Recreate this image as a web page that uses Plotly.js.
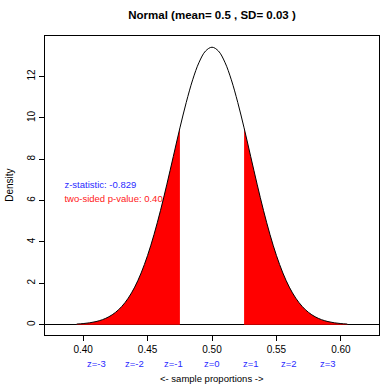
<!DOCTYPE html>
<html><head><meta charset="utf-8">
<script src="https://cdn.plot.ly/plotly-3.0.1.min.js"></script>
<style>html,body{margin:0;padding:0;background:#fff}#c{width:384px;height:385px}</style>
</head><body><div id="c"></div>
<script>
// Values: normal curve, mean 0.5, SD ~0.03
var xs = [0.395,0.400,0.405,0.410,0.415,0.420,0.425,0.430,0.435,0.440,0.445,0.450,0.455,0.460,0.465,0.470,0.4751,0.480,0.485,0.490,0.495,0.500,0.505,0.510,0.515,0.520,0.5249,0.530,0.535,0.540,0.545,0.550,0.555,0.560,0.565,0.570,0.575,0.580,0.585,0.590,0.595,0.600,0.605];
var dens = [0.029,0.052,0.089,0.149,0.242,0.383,0.589,0.882,1.283,1.816,2.499,3.346,4.356,5.516,6.794,8.139,9.516,10.744,11.841,12.692,13.233,13.418,13.233,12.692,11.841,10.744,9.516,8.139,6.794,5.516,4.356,3.346,2.499,1.816,1.283,0.882,0.589,0.383,0.242,0.149,0.089,0.052,0.029];
var lowerCut = 0.4751, upperCut = 0.5249;
var xTicks = [0.40,0.45,0.50,0.55,0.60];
var xTickText = ["0.40","0.45","0.50","0.55","0.60"];
var yTicks = [0,2,4,6,8,10,12];
var zLabels = ["z=-3","z=-2","z=-1","z=0","z=1","z=2","z=3"];
var zPos = [0.41,0.44,0.47,0.50,0.53,0.56,0.59];
var zStat = "z-statistic: -0.829";
var pText = "two-sided p-value: 0.406";
var titleText = "Normal (mean= 0.5 , SD= 0.03 )";

var FONT = "Liberation Sans, Arial, sans-serif";
var lx=[],ly=[],ux=[],uy=[];
for (var i=0;i<xs.length;i++){
  if (xs[i] <= lowerCut){lx.push(xs[i]);ly.push(dens[i]);}
  if (xs[i] >= upperCut){ux.push(xs[i]);uy.push(dens[i]);}
}
var traces = [
  {x:[0.3855],y:[6.74],mode:"text",text:[zStat],textposition:"middle right",
   textfont:{family:FONT,size:9.5,color:"#2a2aff"},hoverinfo:"skip",showlegend:false,cliponaxis:false},
  {x:[0.3855],y:[6.06],mode:"text",text:[pText],textposition:"middle right",
   textfont:{family:FONT,size:9.5,color:"#ff2020"},hoverinfo:"skip",showlegend:false,cliponaxis:false},
  {x:lx,y:ly,mode:"lines",fill:"tozeroy",fillcolor:"#ff0000",line:{color:"#ff0000",width:0,shape:"spline"},hoverinfo:"skip",showlegend:false},
  {x:ux,y:uy,mode:"lines",fill:"tozeroy",fillcolor:"#ff0000",line:{color:"#ff0000",width:0,shape:"spline"},hoverinfo:"skip",showlegend:false},
  {x:xs,y:dens,mode:"lines",line:{color:"#000",width:1,shape:"spline"},hoverinfo:"skip",showlegend:false}
];
var ann = [];
for (var k=0;k<zLabels.length;k++){
  ann.push({x:zPos[k],xref:"x",y:-0.094,yref:"paper",text:zLabels[k],showarrow:false,
    yanchor:"middle",xanchor:"center",font:{family:FONT,size:9.5,color:"#2a2aff"}});
}
ann.push({x:0.5,xref:"paper",y:-0.144,yref:"paper",text:"&lt;- sample proportions -&gt;",showarrow:false,
  yanchor:"middle",xanchor:"center",font:{family:FONT,size:9.5,color:"#000"}});
ann.push({x:-0.107,xref:"paper",y:0.5,yref:"paper",text:"Density",textangle:-90,showarrow:false,
  yanchor:"middle",xanchor:"center",font:{family:FONT,size:10,color:"#000"}});
var layout = {
  width:384,height:385,
  margin:{l:45,r:5,t:36,b:50,pad:0},
  paper_bgcolor:"#fff",plot_bgcolor:"#fff",
  title:{text:"<b>"+titleText+"</b>",x:0.5,xref:"paper",y:0.961,yref:"container",yanchor:"middle",
    font:{family:FONT,size:11.5,color:"#000"}},
  xaxis:{range:[0.3704,0.6296],tickvals:xTicks,ticktext:xTickText,ticks:"outside",ticklen:5,tickcolor:"#000",
    showline:true,linecolor:"#000",linewidth:1,mirror:true,showgrid:false,zeroline:false,
    tickfont:{family:FONT,size:10,color:"#000"}},
  yaxis:{range:[-0.50,13.96],tickvals:yTicks,ticks:"outside",ticklen:5,tickcolor:"#000",tickangle:-90,
    showline:true,linecolor:"#000",linewidth:1,mirror:true,showgrid:false,
    zeroline:true,zerolinecolor:"#000",zerolinewidth:1,
    tickfont:{family:FONT,size:10,color:"#000"}},
  annotations:ann,
  showlegend:false
};
Plotly.newPlot("c",traces,layout,{staticPlot:true,displayModeBar:false});
</script></body></html>
